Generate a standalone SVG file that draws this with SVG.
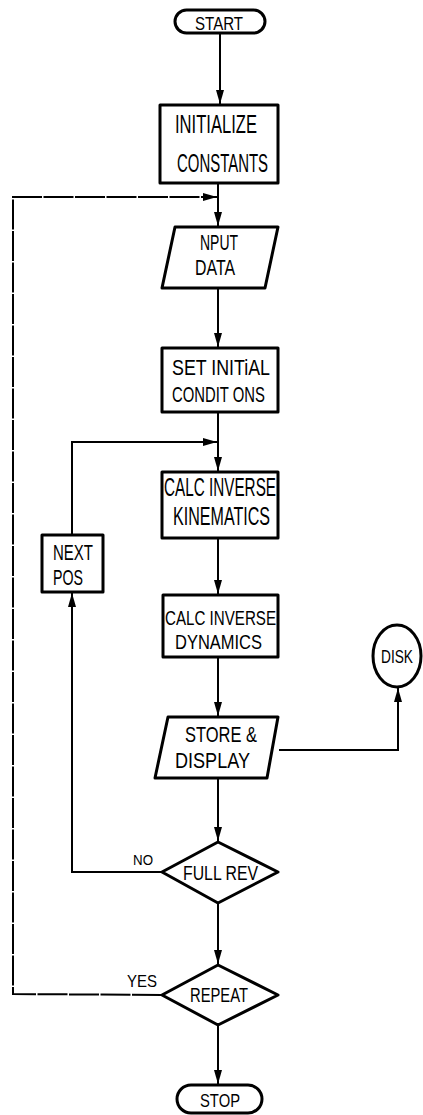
<svg xmlns="http://www.w3.org/2000/svg" width="423" height="1115" viewBox="0 0 423 1115">
<defs>
<style>
.s{fill:#fff;stroke:#000;stroke-width:3;stroke-linejoin:round}
.c{fill:none;stroke:#000;stroke-width:2}
.d{stroke-dasharray:30 1.5}
text{font-family:"Liberation Sans",Arial,sans-serif;fill:#000;text-anchor:start}
.t{font-size:22px}
.b{font-size:25px}
</style>
<marker id="a" markerUnits="userSpaceOnUse" markerWidth="14" markerHeight="8" refX="14" refY="4" orient="auto">
<path d="M0,0 L14,4 L0,8 z" fill="#000"/>
</marker>
</defs>
<g id="connectors">
<path class="c" d="M220,33 V104" marker-end="url(#a)"/>
<path class="c" d="M218,183 V197"/>
<path class="c d" d="M162,995 L13,994 L13,197 L217,197" marker-end="url(#a)"/>
<path class="c" d="M218,197 V226" marker-end="url(#a)"/>
<path class="c" d="M218,288 V347" marker-end="url(#a)"/>
<path class="c" d="M218,412 V442"/>
<path class="c" d="M162,872 H72 V593" marker-end="url(#a)"/>
<path class="c" d="M72,535 V442 H217" marker-end="url(#a)"/>
<path class="c" d="M218,442 V471" marker-end="url(#a)"/>
<path class="c" d="M218,538 V594" marker-end="url(#a)"/>
<path class="c" d="M218,657 V716" marker-end="url(#a)"/>
<path class="c" d="M279,750 H398 V688" marker-end="url(#a)"/>
<path class="c" d="M218,778 V841" marker-end="url(#a)"/>
<path class="c" d="M218,903 V964" marker-end="url(#a)"/>
<path class="c" d="M218,1025 V1084" marker-end="url(#a)"/>
</g>
<g id="start">
<rect class="s" x="175" y="10" width="90" height="23" rx="11.5"/>
<text x="195" y="30" textLength="48" lengthAdjust="spacingAndGlyphs" style="font-size:18px">START</text>
</g>
<g id="init">
<rect class="s" x="160" y="105" width="118" height="78"/>
<text class="b" x="175" y="133" textLength="82" lengthAdjust="spacingAndGlyphs">INITIALIZE</text>
<text class="b" x="177" y="172" textLength="91" lengthAdjust="spacingAndGlyphs">CONSTANTS</text>
</g>
<g id="input">
<path class="s" d="M175,227 H278 L265,288 H162 Z"/>
<text class="t" x="200" y="250" textLength="38" lengthAdjust="spacingAndGlyphs">NPUT</text>
<text class="t" x="195" y="275" textLength="40" lengthAdjust="spacingAndGlyphs">DATA</text>
</g>
<g id="setinit">
<rect class="s" x="162" y="348" width="116" height="64"/>
<text class="t" x="172" y="375" textLength="98" lengthAdjust="spacingAndGlyphs">SET INITiAL</text>
<text class="t" x="172" y="402" textLength="93" lengthAdjust="spacingAndGlyphs">CONDIT ONS</text>
</g>
<g id="kin">
<rect class="s" x="162" y="472" width="116" height="66"/>
<text class="b" x="164" y="496" textLength="112" lengthAdjust="spacingAndGlyphs">CALC INVERSE</text>
<text class="b" x="173" y="525" textLength="97" lengthAdjust="spacingAndGlyphs">KINEMATICS</text>
</g>
<g id="nextpos">
<rect class="s" x="42" y="535" width="61" height="57"/>
<text class="t" x="53" y="560" textLength="40" lengthAdjust="spacingAndGlyphs">NEXT</text>
<text class="t" x="53" y="585" textLength="30" lengthAdjust="spacingAndGlyphs">POS</text>
</g>
<g id="dyn">
<rect class="s" x="163" y="595" width="115" height="62"/>
<text x="165" y="625" textLength="111" lengthAdjust="spacingAndGlyphs" style="font-size:20px">CALC INVERSE</text>
<text x="175" y="649" textLength="87" lengthAdjust="spacingAndGlyphs" style="font-size:20px">DYNAMICS</text>
</g>
<g id="store">
<path class="s" d="M168,717 H278 L267,778 H155 Z"/>
<text class="t" x="185" y="742" textLength="72" lengthAdjust="spacingAndGlyphs">STORE &amp;</text>
<text class="t" x="175" y="768" textLength="75" lengthAdjust="spacingAndGlyphs">DISPLAY</text>
</g>
<g id="disk">
<ellipse class="s" cx="397" cy="656" rx="24" ry="31"/>
<text x="397" y="663" textLength="32" lengthAdjust="spacingAndGlyphs" style="font-size:18px;text-anchor:middle">DISK</text>
</g>
<g id="fullrev">
<path class="s" d="M218,842 L278,872 L218,903 L162,872 Z"/>
<text x="183" y="880" textLength="75" lengthAdjust="spacingAndGlyphs" style="font-size:21px">FULL REV</text>
<text x="133" y="865" textLength="20" lengthAdjust="spacingAndGlyphs" style="font-size:15px">NO</text>
</g>
<g id="repeat">
<path class="s" d="M218,965 L278,995 L218,1025 L162,995 Z"/>
<text x="190" y="1002" textLength="58" lengthAdjust="spacingAndGlyphs" style="font-size:20px">REPEAT</text>
<text x="127" y="987" textLength="30" lengthAdjust="spacingAndGlyphs" style="font-size:17px">YES</text>
</g>
<g id="stop">
<rect class="s" x="177" y="1085" width="85" height="28" rx="14"/>
<text x="200" y="1107" textLength="40" lengthAdjust="spacingAndGlyphs" style="font-size:19px">STOP</text>
</g>
</svg>
